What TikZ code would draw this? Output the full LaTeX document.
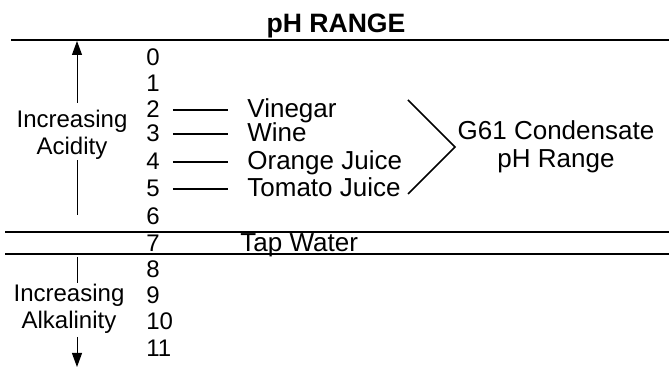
\documentclass[tikz,border=0pt]{standalone}
\usepackage{fontspec}
\setmainfont{Liberation Sans}
\usetikzlibrary{arrows.meta}

\begin{document}
\begin{tikzpicture}[x=0.5pt, y=-0.5pt,
    txt/.style={inner sep=0pt, font=\fontsize{12}{13.5}\selectfont},
    num/.style={txt, anchor=base west},
    food/.style={txt, anchor=base west, font=\fontsize{13}{14}\selectfont},
    rule/.style={line width=1pt},
    tick/.style={line width=1pt, shorten <=6.3pt, shorten >=9.5pt},
    arr/.style={line width=0.5pt}]
    \useasboundingbox (0,0) rectangle (669,367);
    % 标题
    \node[txt, anchor=base, font=\fontsize{13.3}{15}\selectfont\bfseries] (title) at (336,33) {pH RANGE};
    % 横线
    \draw[rule] (11,40) -- (669,40);
    \draw[rule] (5,232) -- (669,232);
    \draw[rule] (5,254) -- (669,254);
    % pH 数值
    \foreach \v/\y in {0/66, 1/92, 2/118, 3/142, 4/170, 5/197, 6/225,
                       7/252, 8/278, 9/304, 10/330, 11/357}
        \node[num] (n\v) at (146,\y) {\v};
    % 常见液体
    \node[food] (vinegar) at (247,118) {Vinegar};
    \node[food] (wine) at (247,142) {Wine};
    \node[food] (orange) at (247,170) {Orange Juice};
    \node[food] (tomato) at (247,197) {Tomato Juice};
    \node[food] (tap) at (240,252) {Tap Water};
    \foreach \n/\f in {2/vinegar, 3/wine, 4/orange, 5/tomato}
        \draw[tick] (n\n.east) -- (n\n.east -| \f.west);
    % 冷凝水范围
    \coordinate (btop) at (408,100);
    \coordinate (bmid) at (455,147);
    \coordinate (bbot) at (408,194);
    \draw[line width=0.8pt] (btop) -- (bmid) -- (bbot);
    \node[txt, align=center, font=\fontsize{13}{14}\selectfont] (g61) at (556,147) {G61 Condensate\\pH Range};
    % 酸碱方向
    \node[txt, align=center] (acid) at (72,135) {Increasing\\Acidity};
    \node[txt, align=center] (alk) at (69,309) {Increasing\\Alkalinity};
    \coordinate (acidlow) at (77,215);
    \coordinate (acidmid) at (77,160);
    \coordinate (acidup) at (77,103);
    \coordinate (acidtip) at (77,41);
    \coordinate (alkup) at (77,257);
    \coordinate (alklow) at (77,283);
    \coordinate (alkdown) at (77,337);
    \coordinate (alktip) at (77,367);
    \draw[arr] (acidlow) -- (acidmid);
    \draw[arr, -{Triangle[length=7pt,width=5pt]}] (acidup) -- (acidtip);
    \draw[arr] (alkup) -- (alklow);
    \draw[arr, -{Triangle[length=7pt,width=5pt]}] (alkdown) -- (alktip);
\end{tikzpicture}
\end{document}
